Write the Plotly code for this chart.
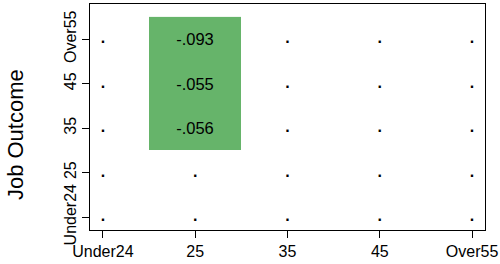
import plotly.graph_objects as go

x_labels = ["Under24", "25", "35", "45", "Over55"]
y_labels = ["Under24", "25", "35", "45", "Over55"]
# significant cells: (x index, y index, value)
sig_x = [1, 1, 1]
sig_y = [2, 3, 4]
sig_vals = [-0.056, -0.055, -0.093]

GREEN = "#66b46a"
FONT = "Liberation Sans, Arial, sans-serif"

n = len(x_labels)
z = [[None] * n for _ in range(n)]
txt = [[""] * n for _ in range(n)]
for xi, yi, v in zip(sig_x, sig_y, sig_vals):
    z[yi][xi] = v
    txt[yi][xi] = f"{v:.3f}".replace("0.", ".")

fig = go.Figure()
fig.add_trace(go.Heatmap(
    x=list(range(n)), y=list(range(n)), z=z, text=txt,
    texttemplate="%{text}", textfont=dict(size=16.5, color="black", family=FONT),
    colorscale=[[0, GREEN], [1, GREEN]], showscale=False, hoverinfo="skip",
))

dx, dy = [], []
for yi in range(n):
    for xi in range(n):
        if z[yi][xi] is None:
            dx.append(xi)
            dy.append(yi)
fig.add_trace(go.Scatter(
    x=dx, y=dy, mode="text", text=["."] * len(dx),
    textposition="middle center",
    textfont=dict(size=16, color="black", family=FONT, weight="bold"), hoverinfo="skip",
))

axis_common = dict(showgrid=False, zeroline=False, showline=True, linecolor="black",
                   linewidth=1, mirror=True, ticks="outside", ticklen=7,
                   tickcolor="black", tickwidth=1, automargin=False,
                   tickfont=dict(size=16, color="black", family=FONT))
fig.update_xaxes(range=[-0.14, 4.14], tickvals=list(range(n)), ticktext=x_labels, **axis_common)
fig.update_yaxes(range=[-0.29, 4.79], tickvals=list(range(n)), ticktext=y_labels,
                 tickangle=-90, **axis_common)

fig.add_annotation(text="Job Outcome", xref="paper", yref="paper",
                   x=(15 - 90) / 395, y=0.42, xanchor="center", yanchor="middle",
                   textangle=-90, showarrow=False,
                   font=dict(size=22, color="black", family=FONT))

fig.update_layout(width=500, height=264, margin=dict(l=90, r=15, t=4, b=34),
                  plot_bgcolor="white", paper_bgcolor="white", showlegend=False,
                  font=dict(family=FONT, color="black"))
fig.write_html("out.html", config={"displayModeBar": False},
               post_script="document.body.style.margin='0';")
